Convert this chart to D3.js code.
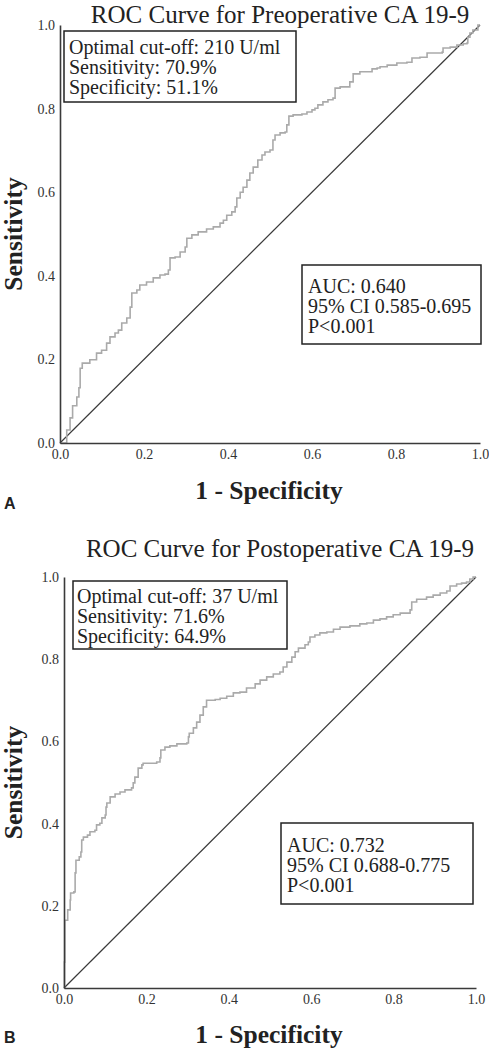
<!DOCTYPE html>
<html>
<head>
<meta charset="utf-8">
<script src="https://cdn.jsdelivr.net/npm/d3@7"></script>
<style>
  html, body { margin: 0; padding: 0; background: #fff; }
  svg { display: block; }
</style>
</head>
<body>
<svg id="chart" width="489" height="1050"></svg>
<script>
// ---------- data ----------
const tickValues = [0, 0.2, 0.4, 0.6, 0.8, 1.0];
const tickLabels = ["0.0", "0.2", "0.4", "0.6", "0.8", "1.0"];

const preTitle = "ROC Curve for Preoperative CA 19-9";
const postTitle = "ROC Curve for Postoperative CA 19-9";
const xLabel = "1 - Specificity";
const yLabel = "Sensitivity";

const preInfo = ["Optimal cut-off: 210 U/ml", "Sensitivity: 70.9%", "Specificity: 51.1%"];
const preStats = ["AUC: 0.640", "95% CI 0.585-0.695", "P<0.001"];
const postInfo = ["Optimal cut-off: 37 U/ml", "Sensitivity: 71.6%", "Specificity: 64.9%"];
const postStats = ["AUC: 0.732", "95% CI 0.688-0.775", "P<0.001"];

// Preoperative ROC (1 - specificity, sensitivity)
const preFPR = [0, 0.016, 0.024, 0.030, 0.040, 0.045, 0.048, 0.053, 0.064, 0.071, 0.087, 0.099, 0.111, 0.119, 0.131, 0.139,
  0.147, 0.159, 0.167, 0.171, 0.183, 0.190, 0.206, 0.222, 0.238, 0.250, 0.258, 0.262, 0.274, 0.286, 0.298, 0.302,
  0.314, 0.329, 0.349, 0.365, 0.381, 0.389, 0.397, 0.409, 0.417, 0.421, 0.429, 0.436, 0.445, 0.452, 0.460, 0.471,
  0.481, 0.488, 0.500, 0.507, 0.512, 0.524, 0.536, 0.540, 0.545, 0.555, 0.576, 0.588, 0.600, 0.607, 0.614, 0.626,
  0.638, 0.650, 0.655, 0.667, 0.683, 0.690, 0.698, 0.714, 0.731, 0.743, 0.755, 0.762, 0.779, 0.802, 0.826, 0.838,
  0.857, 0.874, 0.888, 0.910, 0.912, 0.929, 0.945, 0.960, 0.969, 0.971, 0.976, 0.983, 0.995, 1.0];
const preTPR = [0, 0.031, 0.060, 0.089, 0.110, 0.132, 0.179, 0.191, 0.191, 0.199, 0.215, 0.222, 0.239, 0.254, 0.263, 0.270,
  0.287, 0.299, 0.325, 0.359, 0.366, 0.378, 0.385, 0.395, 0.402, 0.404, 0.414, 0.443, 0.445, 0.457, 0.469, 0.490,
  0.498, 0.505, 0.512, 0.517, 0.526, 0.533, 0.545, 0.553, 0.565, 0.586, 0.600, 0.612, 0.629, 0.646, 0.660, 0.677,
  0.689, 0.696, 0.701, 0.725, 0.737, 0.742, 0.744, 0.761, 0.782, 0.785, 0.787, 0.792, 0.797, 0.801, 0.809, 0.816,
  0.821, 0.825, 0.849, 0.852, 0.852, 0.864, 0.883, 0.888, 0.888, 0.895, 0.897, 0.900, 0.904, 0.909, 0.911, 0.921,
  0.923, 0.933, 0.933, 0.935, 0.945, 0.947, 0.952, 0.955, 0.957, 0.971, 0.981, 0.988, 1.0, 1.0];

// Postoperative ROC
const postFPR = [0, 0.001, 0.002, 0.009, 0.015, 0.016, 0.024, 0.027, 0.029, 0.037, 0.041, 0.043, 0.047, 0.057, 0.063, 0.075,
  0.079, 0.087, 0.092, 0.100, 0.102, 0.104, 0.112, 0.124, 0.136, 0.148, 0.164, 0.168, 0.172, 0.180, 0.189, 0.192,
  0.209, 0.225, 0.233, 0.235, 0.245, 0.257, 0.274, 0.298, 0.302, 0.304, 0.314, 0.322, 0.330, 0.338, 0.346, 0.367,
  0.379, 0.395, 0.411, 0.427, 0.443, 0.464, 0.476, 0.492, 0.508, 0.524, 0.532, 0.541, 0.553, 0.561, 0.569, 0.585,
  0.593, 0.597, 0.609, 0.621, 0.638, 0.654, 0.670, 0.694, 0.718, 0.735, 0.751, 0.767, 0.783, 0.799, 0.816, 0.832,
  0.840, 0.844, 0.856, 0.880, 0.896, 0.913, 0.929, 0.937, 0.953, 0.965, 0.977, 0.985, 0.993, 1.0];
const postTPR = [0, 0.063, 0.165, 0.190, 0.214, 0.231, 0.234, 0.280, 0.311, 0.319, 0.331, 0.360, 0.367, 0.372, 0.380, 0.384,
  0.397, 0.401, 0.414, 0.421, 0.440, 0.450, 0.465, 0.472, 0.477, 0.482, 0.487, 0.499, 0.513, 0.535, 0.543, 0.547,
  0.547, 0.550, 0.560, 0.579, 0.586, 0.589, 0.594, 0.596, 0.611, 0.620, 0.633, 0.647, 0.664, 0.684, 0.700, 0.702,
  0.705, 0.710, 0.718, 0.720, 0.730, 0.740, 0.749, 0.757, 0.764, 0.769, 0.781, 0.793, 0.805, 0.818, 0.827, 0.835,
  0.842, 0.854, 0.859, 0.864, 0.866, 0.873, 0.878, 0.881, 0.886, 0.888, 0.895, 0.898, 0.903, 0.908, 0.912, 0.912,
  0.920, 0.939, 0.946, 0.951, 0.956, 0.961, 0.966, 0.978, 0.983, 0.985, 0.988, 0.995, 1.0, 1.0];

// ---------- drawing ----------
const svg = d3.select("#chart");
const SERIF = "'Liberation Serif', 'Times New Roman', serif";
const SANS = "'Liberation Sans', Arial, sans-serif";
const AXIS_COLOR = "#3a3a3a";
const CURVE_COLOR = "#aaaaaa";

function panel(cfg) {
  const x = d3.scaleLinear().domain([0, 1]).range([cfg.x0, cfg.x1]);
  const y = d3.scaleLinear().domain([0, 1]).range([cfg.y0, cfg.y1]);
  const g = svg.append("g");

  // title
  g.append("text")
    .attr("x", cfg.titleX).attr("y", cfg.titleY)
    .attr("text-anchor", "middle")
    .style("font-family", SERIF).style("font-size", "25px").style("fill", "#222")
    .text(cfg.title);

  // diagonal reference
  g.append("line")
    .attr("x1", x(0)).attr("y1", y(0)).attr("x2", x(1)).attr("y2", y(1))
    .attr("stroke", AXIS_COLOR).attr("stroke-width", 1.2);

  // ROC curve
  const pts = cfg.fpr.map((f, i) => [f, cfg.tpr[i]]);
  g.append("path")
    .datum(pts)
    .attr("fill", "none")
    .attr("stroke", CURVE_COLOR)
    .attr("stroke-width", 1.6)
    .attr("d", d3.line().x(d => x(d[0])).y(d => y(d[1])).curve(d3.curveStepAfter));

  // axes
  const xAxis = d3.axisBottom(x).tickValues(tickValues)
    .tickFormat((d, i) => tickLabels[i]).tickSize(0).tickPadding(6);
  const yAxis = d3.axisLeft(y).tickValues(tickValues)
    .tickFormat((d, i) => tickLabels[i]).tickSize(0).tickPadding(5);

  const gx = g.append("g").attr("transform", `translate(0,${cfg.y0})`).call(xAxis);
  const gy = g.append("g").attr("transform", `translate(${cfg.x0},0)`).call(yAxis);
  [gx, gy].forEach(a => {
    a.select(".domain").attr("stroke", AXIS_COLOR).attr("stroke-width", 1.6);
    a.selectAll("text").style("font-family", SERIF).style("font-size", "14px").style("fill", "#333");
  });

  // axis titles
  g.append("text")
    .attr("x", cfg.xLabelX).attr("y", cfg.xLabelY)
    .attr("text-anchor", "middle")
    .style("font-family", SERIF).style("font-size", "25.5px").style("font-weight", "bold").style("fill", "#222")
    .text(xLabel);
  g.append("text")
    .attr("transform", `translate(22,${(cfg.y0 + cfg.y1) / 2}) rotate(-90)`)
    .attr("text-anchor", "middle")
    .style("font-family", SERIF).style("font-size", "25.5px").style("font-weight", "bold").style("fill", "#222")
    .text(yLabel);

  // panel letter
  g.append("text")
    .attr("x", 4).attr("y", cfg.letterY)
    .style("font-family", SANS).style("font-size", "16px").style("font-weight", "bold").style("fill", "#222")
    .text(cfg.letter);

  // boxes
  function box(b, lines) {
    g.append("rect")
      .attr("x", b.x).attr("y", b.y).attr("width", b.w).attr("height", b.h)
      .attr("fill", "#fff").attr("stroke", "#222").attr("stroke-width", 1.5);
    g.append("g").selectAll("text").data(lines).join("text")
      .attr("x", b.tx).attr("y", (d, i) => b.ty + i * 20)
      .style("font-family", SERIF).style("font-size", "20px").style("fill", "#222")
      .text(d => d);
  }
  box(cfg.infoBox, cfg.info);
  box(cfg.statBox, cfg.stats);
}

panel({
  title: preTitle, titleX: 280, titleY: 22.5,
  x0: 60, x1: 480, y0: 443, y1: 25,
  fpr: preFPR, tpr: preTPR,
  xLabelX: 269, xLabelY: 499, letter: "A", letterY: 509,
  info: preInfo, infoBox: { x: 64, y: 31, w: 232, h: 71, tx: 69, ty: 54 },
  stats: preStats, statBox: { x: 302, y: 265, w: 179, h: 79, tx: 308, ty: 293 }
});

panel({
  title: postTitle, titleX: 280, titleY: 557,
  x0: 64, x1: 476, y0: 988, y1: 577,
  fpr: postFPR, tpr: postTPR,
  xLabelX: 269, xLabelY: 1043, letter: "B", letterY: 1043,
  info: postInfo, infoBox: { x: 73, y: 581, w: 214, h: 68, tx: 77, ty: 603 },
  stats: postStats, statBox: { x: 281, y: 823, w: 192, h: 81, tx: 287, ty: 852 }
});
</script>
</body>
</html>
